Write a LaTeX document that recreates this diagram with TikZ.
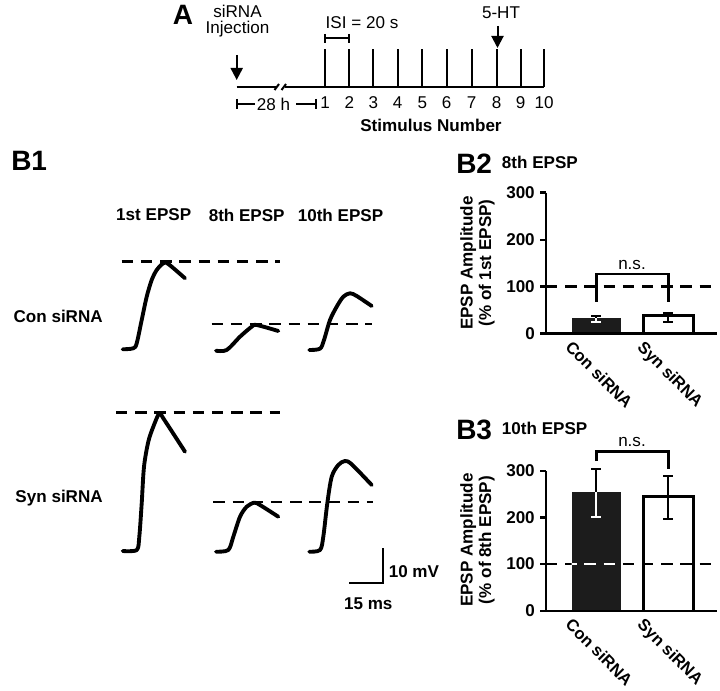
\documentclass[tikz,border=0pt]{standalone}
\usepackage{fontspec}
\setmainfont{Liberation Sans}
\usetikzlibrary{arrows.meta}
\begin{document}
\begin{tikzpicture}[x=0.75pt,y=-0.75pt,
  txt/.style={inner sep=0pt, font=\fontsize{12.8}{14}\selectfont},
  btxt/.style={inner sep=0pt, font=\fontsize{12.8}{14}\selectfont\bfseries},
  big/.style={inner sep=0pt, font=\fontsize{21}{23}\selectfont\bfseries},
  tl/.style={line width=1.5pt},
  arr/.style={line width=1.5pt, -{Triangle[width=9pt,length=9pt]}},
  trace/.style={line width=2.9pt, line cap=round, line join=round},
  dashref/.style={line width=1.9pt, dash pattern=on 8.6pt off 5.8pt},
  ax/.style={line width=1.9pt},
  ebar/.style={line width=1.6pt},
  xlab/.style={inner sep=0pt, font=\fontsize{12.4}{14}\selectfont\bfseries, rotate=-45, anchor=north west},
  ylab/.style={btxt, rotate=90}
]
\useasboundingbox (0,0) rectangle (720,691);
\definecolor{barblack}{HTML}{1C1C1C}

% ---------------- Panel A ----------------
\node[big] (lblA) at (183,15) {A};
\node[txt] (sirna) at (237.5,11) {siRNA};
\node[txt] (inj) at (237.5,29) {Injection};
\coordinate (injTop) at (236.7,55);
\coordinate (injBot) at (236.7,80);
\draw[arr] (injTop) -- (injBot);

\coordinate (base0) at (236.7,87);
\coordinate (base1) at (276,87);
\coordinate (base2) at (285,87);
\coordinate (base3) at (544,87);
\draw[tl] (base0) -- (base1);
\draw[tl] (base2) -- (base3);
\draw[tl] (274.5,90) -- (279,84);
\draw[tl] (281.5,90) -- (286,84);

\foreach \i/\xx in {1/325,2/349.3,3/373.3,4/397.7,5/422.3,6/446.7,7/471.7,8/496.7,9/520.7,10/544}{
  \draw[tl] (\xx,49.3) -- (\xx,87);
  \node[txt] (num\i) at (\xx,103) {\i};
}
\draw[tl] (325,38.3) -- (349.3,38.3);
\draw[tl] (325,34) -- (325,43);
\draw[tl] (349.3,34) -- (349.3,43);
\node[txt] (isi) at (362,23) {ISI = 20 s};

\node[txt] (ht) at (501,13) {5-HT};
\coordinate (htTop) at (497.5,26);
\coordinate (htBot) at (497.5,48);
\draw[arr] (htTop) -- (htBot);

\draw[tl] (236.7,99) -- (236.7,109.5);
\draw[tl] (236.7,104) -- (255,104);
\node[txt] (h28) at (273.5,104) {28 h};
\draw[tl] (296,104) -- (316,104);
\draw[tl] (316,99) -- (316,109.5);
\node[btxt] (stimn) at (431,125) {Stimulus Number};

% ---------------- Panel B1 ----------------
\node[big, anchor=west] (lblB1) at (11,161) {B1};
\node[btxt] (t1) at (153.7,215) {1st EPSP};
\node[btxt] (t8) at (246.7,215) {8th EPSP};
\node[btxt] (t10) at (340.5,215) {10th EPSP};
\node[btxt, anchor=east] (con) at (103,316) {Con siRNA};
\node[btxt, anchor=east] (syn) at (103,498) {Syn siRNA};

\draw[dashref] (121.7,261.7) -- (280,261.7);
\draw[dashref] (211.7,324) -- (371.7,324);
\draw[dashref] (116,412.7) -- (280,412.7);
\draw[dashref] (213.3,502) -- (373.3,502);

% Con traces
\draw[trace] plot[smooth, tension=0.5] coordinates {(122.7,349.3) (133.3,348.3) (136.7,343.3) (141.7,320) (146.7,296.7) (151.7,280) (156.7,270) (163.3,263.3) (168.3,264) (185,278.3)};
\draw[trace] plot[smooth, tension=0.5] coordinates {(216,350.7) (226.7,350) (240,336.7) (251.7,326.7) (256.7,325) (278.3,331)};
\draw[trace] plot[smooth, tension=0.5] coordinates {(309.3,350) (320,348.7) (324,340) (330,320) (336.7,306.7) (343.3,296.7) (350,293.3) (356.7,296) (371.7,306)};
% Syn traces
\draw[trace] plot[smooth, tension=0.5] coordinates {(122.7,551) (136.7,550) (139.3,536.7) (141.7,503.3) (144,466.7) (148.3,441.7) (153.3,426.7) (159.3,413.3) (163.3,418.3) (185,451.7)};
\draw[trace] plot[smooth, tension=0.5] coordinates {(216,551.7) (228.3,550) (233.3,536.7) (240,516.7) (246.7,506.7) (254.3,502.7) (260,505) (278.3,516.7)};
\draw[trace] plot[smooth, tension=0.5] coordinates {(309.3,551.7) (320,550) (323.3,536.7) (327.3,503.3) (331.7,476.7) (338.3,465) (345,461) (351.7,464.3) (371.7,485)};

% scale bar
\coordinate (sbTop) at (383.3,548.3);
\coordinate (sbCorner) at (383.3,583);
\coordinate (sbLeft) at (349,583);
\draw[tl] (sbTop) -- (sbCorner) -- (sbLeft);
\node[btxt, anchor=west] (mv) at (388.5,571.7) {10 mV};
\node[btxt] (ms) at (368.3,603.3) {15 ms};

% ---------------- Panel B2 ----------------
\node[big, anchor=west] (lblB2) at (456,163.3) {B2};
\node[btxt, anchor=west] (ttlB2) at (501.7,162) {8th EPSP};
\node[ylab] (yl2a) at (468.3,263) {EPSP Amplitude};
\node[ylab] (yl2b) at (486.7,263) {(\% of 1st EPSP)};

\fill[barblack] (571.7,333.3) rectangle (621,318.3);
\draw[ax, fill=white] (643.3,333.3) rectangle (693.3,315.7);
\draw[dashref] (546,286.7) -- (716.7,286.7);
% error bars
\draw[ebar] (596.3,318.3) -- (596.3,316.3);
\draw[ebar] (591.3,316.3) -- (601.3,316.3);
\draw[ebar, white] (596.3,318.3) -- (596.3,322);
\draw[ebar, white] (591.3,322) -- (601.3,322);
\draw[ebar] (668.3,312.7) -- (668.3,321.7);
\draw[ebar] (663.3,312.7) -- (673.3,312.7);
\draw[ebar] (663.3,321.7) -- (673.3,321.7);
% bracket
\draw[ax] (596.3,301.7) -- (596.3,274) -- (668.3,274) -- (668.3,301.7);
\node[txt] (ns2) at (632,265) {n.s.};
% axes
\draw[ax] (546,192.7) -- (546,333.3);
\draw[ax] (540,333.3) -- (716.7,333.3);
\foreach \v/\yy in {300/192.7,200/240,100/286.7}{
  \draw[ax] (540,\yy) -- (546,\yy);
}
\foreach \v/\yy in {300/192.7,200/240,100/286.7,0/333.3}{
  \node[btxt, anchor=east] (tkb2\v) at (535,\yy) {\v};
}
\node[xlab] (xc2) at (573,339.5) {Con siRNA};
\node[xlab] (xs2) at (645,339.5) {Syn siRNA};

% ---------------- Panel B3 ----------------
\node[big, anchor=west] (lblB3) at (456,430) {B3};
\node[btxt, anchor=west] (ttlB3) at (501.7,428) {10th EPSP};
\node[ylab] (yl3a) at (468.3,540) {EPSP Amplitude};
\node[ylab] (yl3b) at (486.7,540) {(\% of 8th EPSP)};

\fill[barblack] (571.7,611) rectangle (621,492.3);
\draw[ax, fill=white] (643.3,611) rectangle (693.3,496.7);
\draw[dashref] (546,564) -- (716.7,564);
\begin{scope}
  \clip (571.7,611) rectangle (621,492.3);
  \draw[dashref, white] (546,564) -- (716.7,564);
\end{scope}
% error bars
\draw[ebar] (596.3,492.3) -- (596.3,469.3);
\draw[ebar] (591.3,469.3) -- (601.3,469.3);
\draw[ebar, white] (596.3,492.3) -- (596.3,517);
\draw[ebar, white] (591.3,517) -- (601.3,517);
\draw[ebar] (668.3,475.7) -- (668.3,519.3);
\draw[ebar] (663.3,475.7) -- (673.3,475.7);
\draw[ebar] (663.3,519.3) -- (673.3,519.3);
% bracket
\draw[ax] (596.3,461) -- (596.3,451.7) -- (668.3,451.7) -- (668.3,469);
\node[txt] (ns3) at (632,441.7) {n.s.};
% axes
\draw[ax] (546,471) -- (546,611);
\draw[ax] (540,611) -- (716.7,611);
\foreach \v/\yy in {300/471,200/517.7,100/564}{
  \draw[ax] (540,\yy) -- (546,\yy);
}
\foreach \v/\yy in {300/471,200/517.7,100/564,0/611}{
  \node[btxt, anchor=east] (tkb3\v) at (535,\yy) {\v};
}
\node[xlab] (xc3) at (573,617) {Con siRNA};
\node[xlab] (xs3) at (645,617) {Syn siRNA};
\end{tikzpicture}
\end{document}
